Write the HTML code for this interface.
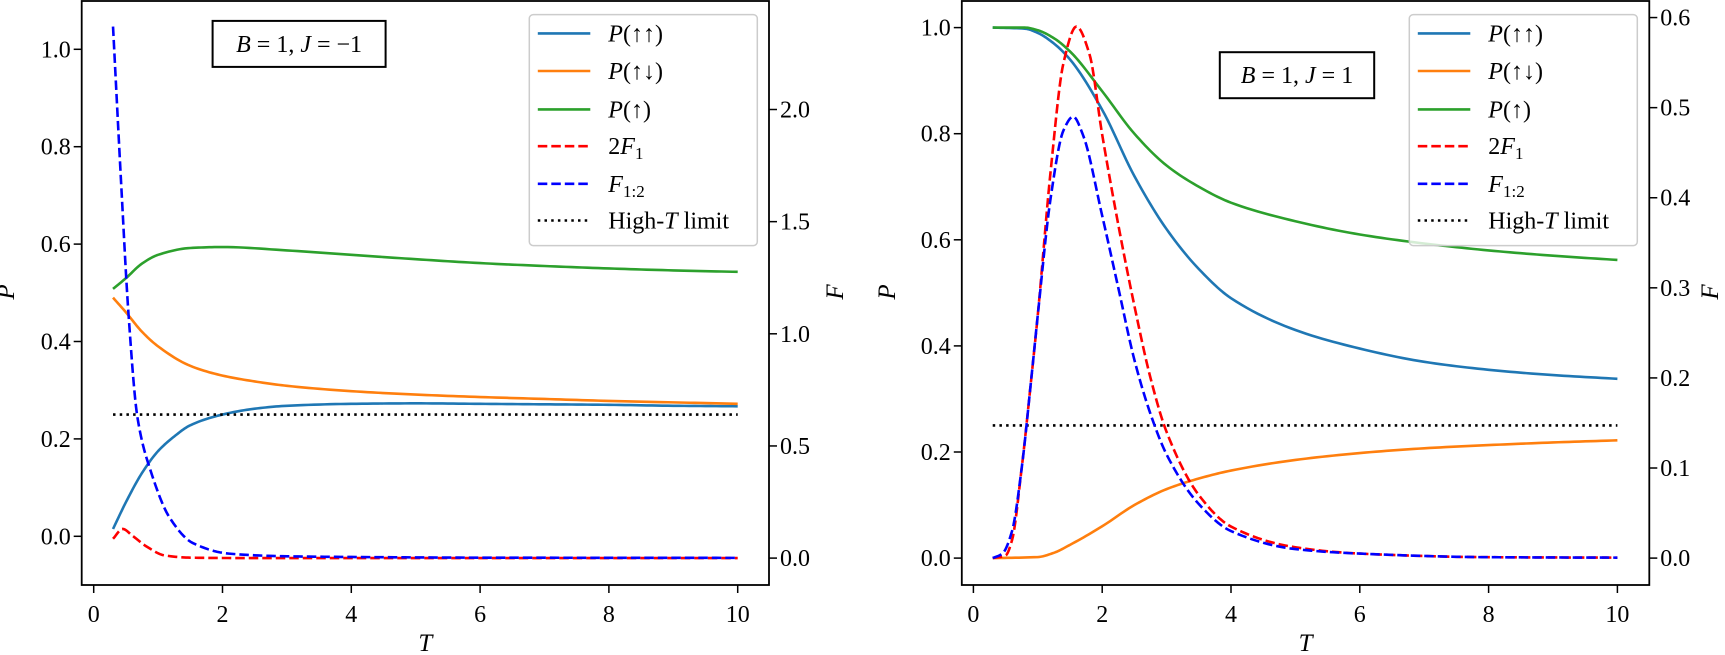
<!DOCTYPE html>
<html><head><meta charset="utf-8">
<style>
html,body{margin:0;padding:0;background:#fff;}
svg{display:block;font-family:"Liberation Serif",serif;}
</style></head>
<body>
<svg id="fig" width="1725" height="655" viewBox="0 0 1725 655" xmlns="http://www.w3.org/2000/svg"></svg>
<script>
// ===== Left panel data (B=1, J=-1) =====
const L_T_uu = [0.3,0.5,0.75,1,1.25,1.5,2,2.5,3,4,5,6,7,8,9,10];
const L_uu   = [0.015,0.07,0.13,0.175,0.205,0.228,0.25,0.262,0.268,0.272,0.273,0.272,0.271,0.27,0.268,0.267];
const L_T_ud = [0.3,0.5,0.75,1,1.5,2,2.5,3,4,5,6,7,8,9,10];
const L_ud   = [0.49,0.46,0.42,0.39,0.35,0.33,0.318,0.309,0.298,0.291,0.286,0.282,0.278,0.275,0.272];
const L_T_u  = [0.3,0.5,0.75,1,1.5,2,3,4,5,6,7,8,9,10];
const L_u    = [0.508,0.53,0.56,0.578,0.592,0.594,0.587,0.578,0.569,0.561,0.555,0.55,0.546,0.543];
const L_T_f1 = [0.3,0.45,0.6,0.83,1.1,1.5,2,3,5,10];
const L_f1   = [0.086,0.13,0.10,0.05,0.012,0.002,0.0005,0,0,0];
const L_T_f12= [0.3,0.43,0.54,0.68,0.89,1.18,1.54,2.1,3,4,6,10];
const L_f12  = [2.37,1.65,1.09,0.626,0.384,0.18,0.067,0.02,0.008,0.005,0.002,0.001];
// ===== Right panel data (B=1, J=1) =====
const R_T_u  = [0.3,0.8,1,1.25,1.5,2,2.5,3,3.5,4,5,6,7,8,9,10];
const R_u    = [1.0,1.0,0.995,0.98,0.955,0.88,0.8,0.74,0.7,0.67,0.635,0.61,0.593,0.58,0.57,0.562];
const R_T_uu = [0.3,0.8,1,1.25,1.5,2,2.5,3,3.5,4,5,6,7,8,9,10];
const R_uu   = [1.0,0.998,0.99,0.97,0.94,0.845,0.72,0.62,0.545,0.49,0.43,0.395,0.37,0.355,0.345,0.338];
const R_T_ud = [0.3,1,1.25,1.5,2,2.5,3,3.5,4,5,6,7,8,9,10];
const R_ud   = [0.0,0.002,0.01,0.025,0.06,0.1,0.13,0.15,0.165,0.185,0.198,0.207,0.213,0.218,0.222];
const R_T_f1 = [0.3,0.5,0.6,0.75,0.9,1,1.2,1.4,1.6,1.8,2,2.25,2.5,2.75,3,3.5,4,5,6,8,10];
const R_f1   = [0,0.003,0.02,0.1,0.2,0.27,0.43,0.55,0.59,0.56,0.47,0.37,0.28,0.2,0.14,0.07,0.035,0.012,0.005,0.001,0.0005];
const R_T_f12= [0.3,0.45,0.6,0.75,0.9,1,1.2,1.4,1.55,1.7,2,2.25,2.5,2.75,3,3.5,4,5,6,8,10];
const R_f12  = [0,0.005,0.03,0.1,0.2,0.27,0.4,0.475,0.49,0.47,0.38,0.3,0.22,0.16,0.115,0.06,0.03,0.01,0.005,0.001,0.0005];
const highT = 0.25;
const xTicks = [0,2,4,6,8,10];
const L_pTicks = [0.0,0.2,0.4,0.6,0.8,1.0];
const L_fTicks = [0.0,0.5,1.0,1.5,2.0];
const R_pTicks = [0.0,0.2,0.4,0.6,0.8,1.0];
const R_fTicks = [0.0,0.1,0.2,0.3,0.4,0.5,0.6];

const NS="http://www.w3.org/2000/svg";
const svg=document.getElementById('fig');
function mk(tag,attrs,parent){const e=document.createElementNS(NS,tag);for(const k in attrs)e.setAttribute(k,attrs[k]);(parent||svg).appendChild(e);return e;}
// monotone cubic (Fritsch-Carlson) in data space, sampled
function path(xs,ys,sx,sy){
  const n=xs.length, d=[], m=new Array(n);
  for(let i=0;i<n-1;i++)d.push((ys[i+1]-ys[i])/(xs[i+1]-xs[i]));
  m[0]=d[0];m[n-1]=d[n-2];
  for(let i=1;i<n-1;i++){
    if(d[i-1]*d[i]<=0)m[i]=0;
    else{const h0=xs[i]-xs[i-1],h1=xs[i+1]-xs[i];const w1=2*h1+h0,w2=h1+2*h0;m[i]=(w1+w2)/(w1/d[i-1]+w2/d[i]);}
  }
  let s=`M${sx(xs[0]).toFixed(2)},${sy(ys[0]).toFixed(2)}`;
  for(let i=0;i<n-1;i++){
    const h=xs[i+1]-xs[i];
    for(let k=1;k<=12;k++){
      const t=k/12,t2=t*t,t3=t2*t;
      const y=(2*t3-3*t2+1)*ys[i]+(t3-2*t2+t)*h*m[i]+(-2*t3+3*t2)*ys[i+1]+(t3-t2)*h*m[i+1];
      s+=`L${sx(xs[i]+t*h).toFixed(2)},${sy(y).toFixed(2)}`;
    }
  }
  return s;
}
const styles={
  uu:{stroke:'#1f77b4'},ud:{stroke:'#ff7f0e'},u:{stroke:'#2ca02c'},
  f1:{stroke:'#ff0000',dash:'9.5,4'},f12:{stroke:'#0000ff',dash:'9.5,4'},ht:{stroke:'#000',dash:'2.5,4.2'}
};
function panel(cfg){
  const g=mk('g',{});
  
  
  const sx=t=>cfg.x0+t*cfg.xu;
  const sp=v=>cfg.p0-v*cfg.pu;
  const sf=v=>cfg.f0-v*cfg.fu;
  const clip='clip-'+cfg.name;
  const cp=mk('clipPath',{id:clip},g);mk('rect',{x:cfg.left,y:cfg.top,width:cfg.right-cfg.left,height:cfg.bottom-cfg.top},cp);
  const plot=mk('g',{'clip-path':`url(#${clip})`},g);
  function line(xs,ys,scale,st,name){
    const e=mk('path',{d:path(xs,ys,sx,scale),fill:'none',stroke:styles[st].stroke,'stroke-width':2.6,'stroke-linejoin':'round'},plot);
    if(styles[st].dash)e.setAttribute('stroke-dasharray',styles[st].dash);
    
    
  }
  line(cfg.d.Tuu,cfg.d.uu,sp,'uu','p-up-up-line');
  line(cfg.d.Tud,cfg.d.ud,sp,'ud','p-up-down-line');
  line(cfg.d.Tu,cfg.d.u,sp,'u','p-up-line');
  const ht=mk('line',{x1:sx(0.3),x2:sx(10),y1:sp(highT),y2:sp(highT),stroke:'#000','stroke-width':2.6,'stroke-dasharray':styles.ht.dash},plot);
  
  
  line(cfg.d.Tf1,cfg.d.f1,sf,'f1','two-f1-line');
  line(cfg.d.Tf12,cfg.d.f12,sf,'f12','f12-line');
  const fr=mk('rect',{x:cfg.left,y:cfg.top,width:cfg.right-cfg.left,height:cfg.bottom-cfg.top,fill:'none',stroke:'#000','stroke-width':1.8},g);
  
  
  xTicks.forEach(t=>{
    mk('line',{x1:sx(t),x2:sx(t),y1:cfg.bottom,y2:cfg.bottom+8,stroke:'#000','stroke-width':1.5},g);
    const tx=mk('text',{x:sx(t),y:cfg.bottom+37,'font-size':24,'text-anchor':'middle'},g);tx.textContent=t;
    
    
  });
  cfg.pt.forEach(v=>{
    mk('line',{x1:cfg.left,x2:cfg.left-8,y1:sp(v),y2:sp(v),stroke:'#000','stroke-width':1.5},g);
    const tx=mk('text',{x:cfg.left-11,y:sp(v)+8,'font-size':24,'text-anchor':'end'},g);tx.textContent=v.toFixed(1);
    
    
  });
  cfg.ft.forEach(v=>{
    mk('line',{x1:cfg.right,x2:cfg.right+8,y1:sf(v),y2:sf(v),stroke:'#000','stroke-width':1.5},g);
    const tx=mk('text',{x:cfg.right+11,y:sf(v)+8,'font-size':24,'text-anchor':'start'},g);tx.textContent=v.toFixed(1);
    
    
  });
  const xl=mk('text',{x:(cfg.left+cfg.right)/2,y:651,'font-size':25,'font-style':'italic','text-anchor':'middle'},g);xl.textContent='T';
  
  
  const pl=mk('text',{x:cfg.pLabelX,y:292,'font-size':25,'font-style':'italic','text-anchor':'middle',transform:`rotate(-90 ${cfg.pLabelX} 292)`},g);pl.textContent='P';
  
  
  const fl=mk('text',{x:cfg.fLabelX,y:292,'font-size':25,'font-style':'italic','text-anchor':'middle',transform:`rotate(-90 ${cfg.fLabelX} 292)`},g);fl.textContent='F';
  
  
  const ab=mk('rect',{x:cfg.ann[0],y:cfg.ann[1],width:cfg.ann[2],height:cfg.ann[3],fill:'#fff',stroke:'#000','stroke-width':2},g);
  
  
  const at=mk('text',{x:cfg.ann[0]+cfg.ann[2]/2,y:cfg.ann[1]+cfg.ann[3]/2+8,'font-size':24,'text-anchor':'middle'},g);
  at.innerHTML=cfg.annText;
  
  
  const lg=mk('g',{},g);
  
  
  mk('rect',{x:cfg.leg,y:14.6,width:228,height:231,rx:4,fill:'#fff','fill-opacity':0.8,stroke:'#ccc','stroke-width':1.5},lg);
  const rows=[['uu','<tspan font-style="italic">P</tspan>(↑↑)'],['ud','<tspan font-style="italic">P</tspan>(↑↓)'],['u','<tspan font-style="italic">P</tspan>(↑)'],
    ['f1','2<tspan font-style="italic">F</tspan><tspan font-size="17" dy="5">1</tspan>'],['f12','<tspan font-style="italic">F</tspan><tspan font-size="17" dy="5">1:2</tspan>'],['ht','High-<tspan font-style="italic">T</tspan> limit']];
  const ry=[33.4,71,109.4,146.2,183.8,220.5];
  rows.forEach((r,i)=>{
    const e=mk('g',{},lg);
    
    
    const ln=mk('line',{x1:cfg.leg+8.5,x2:cfg.leg+61,y1:ry[i],y2:ry[i],stroke:styles[r[0]].stroke,'stroke-width':2.6},e);
    if(styles[r[0]].dash)ln.setAttribute('stroke-dasharray',styles[r[0]].dash);
    const t=mk('text',{x:cfg.leg+79,y:ry[i]+8,'font-size':24},e);t.innerHTML=r[1];
  });
}
panel({name:'left-panel',left:81.7,right:769,top:1,bottom:585,x0:93.7,xu:64.4,p0:536.3,pu:487,f0:558.1,fu:224.3,
  pt:L_pTicks,ft:L_fTicks,pLabelX:14,fLabelX:843,ann:[212.6,20.9,173,46],
  annText:'<tspan font-style="italic">B</tspan> = 1, <tspan font-style="italic">J</tspan> = −1',leg:529.3,
  d:{Tuu:L_T_uu,uu:L_uu,Tud:L_T_ud,ud:L_ud,Tu:L_T_u,u:L_u,Tf1:L_T_f1,f1:L_f1,Tf12:L_T_f12,f12:L_f12}});
panel({name:'right-panel',left:961.8,right:1649.3,top:1,bottom:585,x0:973.4,xu:64.4,p0:558.1,pu:530.5,f0:558.1,fu:900.9,
  pt:R_pTicks,ft:R_fTicks,pLabelX:895,fLabelX:1718,ann:[1219.8,52.2,154.4,46],
  annText:'<tspan font-style="italic">B</tspan> = 1, <tspan font-style="italic">J</tspan> = 1',leg:1409.3,
  d:{Tuu:R_T_uu,uu:R_uu,Tud:R_T_ud,ud:R_ud,Tu:R_T_u,u:R_u,Tf1:R_T_f1,f1:R_f1,Tf12:R_T_f12,f12:R_f12}});
</script>
</body></html>
